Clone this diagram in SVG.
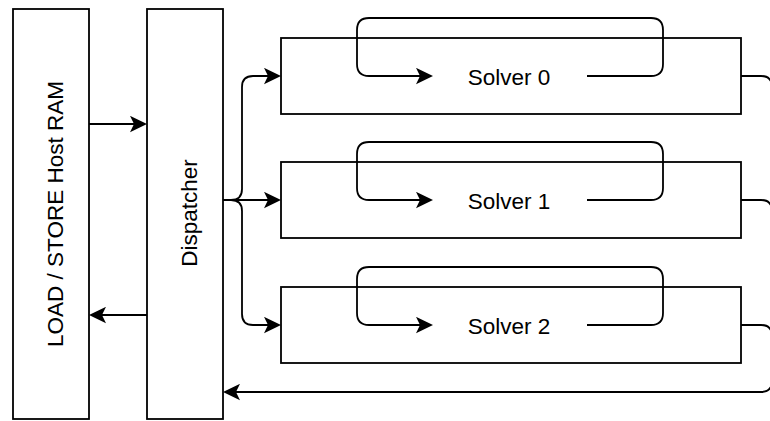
<svg xmlns="http://www.w3.org/2000/svg" width="770" height="421" viewBox="0 0 770 421">
  <style>
    .box { fill: #ffffff; stroke: #000000; stroke-width: 1.8; }
    .label { font-family: "Liberation Sans", Arial, Helvetica, sans-serif; font-size: 22.5px; fill: #000000; text-anchor: middle; }
    .edge { fill: none; stroke: #000000; stroke-width: 1.8; }
    .arrow { marker-end: url(#classic); }
  </style>
  <defs>
    <!-- classic notched arrowhead; reference point sits on the notch, tip lies 13px ahead -->
    <marker id="classic" markerUnits="userSpaceOnUse" viewBox="0 0 17 17" refX="4" refY="8.5" markerWidth="17" markerHeight="17" orient="auto">
      <path d="M17,8.5 L0,0.3 L4,8.5 L0,16.7 Z" fill="#000000"/>
    </marker>
  </defs>

  <rect width="770" height="421" fill="#ffffff"/>

  <!-- nodes -->
  <g id="host-ram">
    <rect class="box" x="13" y="9" width="76" height="410"/>
    <text class="label" transform="translate(63,214) rotate(-90)">LOAD / STORE Host RAM</text>
  </g>
  <g id="dispatcher">
    <rect class="box" x="147" y="9" width="76" height="410"/>
    <text class="label" transform="translate(196.5,213) rotate(-90)">Dispatcher</text>
  </g>
  <g id="solver-0">
    <rect class="box" x="281" y="38" width="460" height="76"/>
    <text class="label" x="509" y="85">Solver 0</text>
  </g>
  <g id="solver-1">
    <rect class="box" x="281" y="162" width="460" height="76"/>
    <text class="label" x="509" y="209">Solver 1</text>
  </g>
  <g id="solver-2">
    <rect class="box" x="281" y="287" width="460" height="76"/>
    <text class="label" x="509" y="334">Solver 2</text>
  </g>

  <!-- connectors -->
  <g id="connectors">
    <!-- host RAM <-> dispatcher -->
    <path class="edge arrow" d="M89,124 H134"/>
    <path class="edge arrow" d="M147,315 H102"/>

    <!-- dispatcher fan-out to solvers -->
    <path class="edge arrow" d="M223,200 H231 Q242,200 242,189 V87 Q242,76 253,76 H268"/>
    <path class="edge arrow" d="M223,200 H268"/>
    <path class="edge arrow" d="M223,200 H231 Q242,200 242,211 V314 Q242,325 253,325 H268"/>

    <!-- solver results collected back into the dispatcher -->
    <path class="edge" d="M741,76 H761 Q772,76 772,87 V381"/>
    <path class="edge" d="M741,200 H761 Q772,200 772,211"/>
    <path class="edge" d="M741,325 H761 Q772,325 772,336"/>
    <path class="edge arrow" d="M772,381 Q772,392 761,392 H236"/>

    <!-- per-solver iteration loops -->
    <path class="edge arrow" d="M587,76 H651 Q663,76 663,64 V30 Q663,18 651,18 H369 Q357,18 357,30 V64 Q357,76 369,76 H420"/>
    <path class="edge arrow" d="M587,200 H651 Q663,200 663,188 V154 Q663,142 651,142 H369 Q357,142 357,154 V188 Q357,200 369,200 H420"/>
    <path class="edge arrow" d="M587,325 H651 Q663,325 663,313 V279 Q663,267 651,267 H369 Q357,267 357,279 V313 Q357,325 369,325 H420"/>
  </g>
</svg>
